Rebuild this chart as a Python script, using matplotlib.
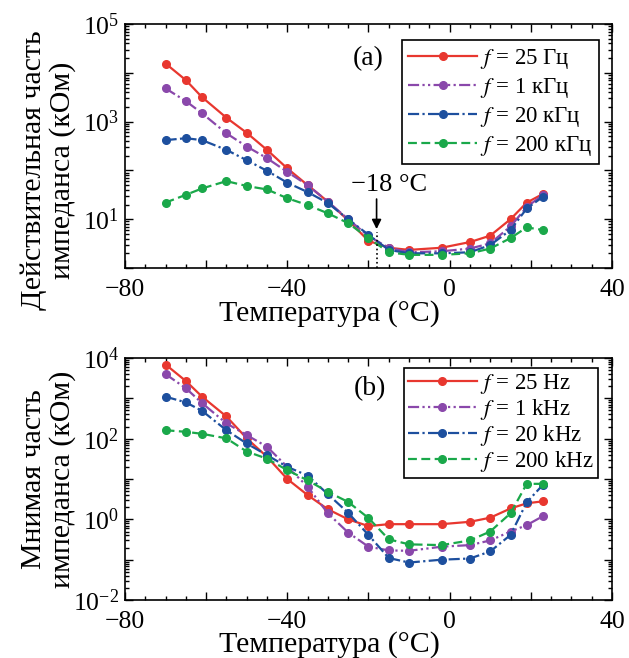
import math
import matplotlib
matplotlib.use("Agg")
import matplotlib.pyplot as plt
from matplotlib.ticker import MultipleLocator, FuncFormatter, LogLocator, NullFormatter

plt.rcParams['font.family'] = ['Liberation Serif', 'DejaVu Serif']
plt.rcParams['mathtext.fontset'] = 'stix'

# ---- data ----
temperature = [-70, -65, -61, -55, -50, -45, -40, -35, -30, -25, -20, -15, -10, -2, 5, 10, 15, 19, 23]

# (a) real part, kOhm
real_25hz = [15500, 7080, 3160, 1200, 589, 263, 110, 50, 22.9, 9.5, 3.6, 2.6, 2.35, 2.6, 3.4, 4.6, 10.0, 21.9, 33]
real_1khz = [4790, 2630, 1480, 575, 309, 178, 93, 50, 22.9, 10.0, 4.5, 2.6, 2.1, 2.2, 2.5, 3.2, 7.1, 17.8, 31.6]
real_20khz = [417, 457, 417, 263, 162, 98, 56, 36, 21.4, 10.0, 4.8, 2.35, 2.0, 2.0, 2.1, 2.95, 6.0, 16.6, 28.8]
real_200khz = [21.9, 31.6, 42.7, 60.3, 47.9, 40.7, 26.9, 19.5, 13.2, 8.3, 4.1, 2.1, 1.86, 1.86, 2.0, 2.5, 4.1, 6.8, 6.0]

# (b) imaginary part, kOhm
imag_25hz = [6900, 2690, 1100, 355, 102, 35.5, 10.0, 4.0, 1.78, 1.0, 0.68, 0.76, 0.76, 0.76, 0.87, 1.10, 1.86, 2.5, 2.8]
imag_1khz = [3980, 1780, 760, 240, 123, 63, 20, 6.5, 1.41, 0.47, 0.21, 0.17, 0.166, 0.21, 0.23, 0.30, 0.50, 0.72, 1.2]
imag_20khz = [1100, 794, 490, 162, 76, 39, 20, 12.2, 4.2, 1.45, 0.41, 0.11, 0.085, 0.10, 0.107, 0.16, 0.41, 2.65, 7.2]
imag_200khz = [162, 148, 132, 102, 48, 32, 16.6, 9.3, 4.8, 2.7, 1.08, 0.32, 0.24, 0.23, 0.30, 0.50, 1.41, 7.6, 7.6]

labels_a = ["$f$ = 25 Гц", "$f$ = 1 кГц", "$f$ = 20 кГц", "$f$ = 200 кГц"]
labels_b = ["$f$ = 25 Hz", "$f$ = 1 kHz", "$f$ = 20 kHz", "$f$ = 200 kHz"]

colors = ['#e8372f', '#8a48ab', '#1d4f9e', '#1aa84a']
styles = ['-', (0, (5, 1.5, 1, 1.5, 1, 1.5)), (0, (5, 1.5, 1, 1.5)), (0, (4, 2))]

fig = plt.figure(figsize=(6.29, 6.58), dpi=100)
ax1 = fig.add_axes([0.1987, 0.5927, 0.7742, 0.3708])
ax2 = fig.add_axes([0.1987, 0.0881, 0.7742, 0.3678])

TICK_FS = 18.5
LABEL_FS = 21.5


def xfmt(v, p):
    if abs(v) % 40 != 0:
        return ""
    return ("\u2212%d" % abs(v)) if v < 0 else "%d" % v


def make_yfmt(odd):
    def yfmt(v, p):
        e = int(round(math.log10(v)))
        if (e % 2 == 1) == odd:
            return r"$\mathdefault{10^{%d}}$" % e
        return ""
    return yfmt


def style_axis(ax, ylim, odd):
    ax.set_yscale('log')
    ax.set_xlim(-80, 40)
    ax.set_ylim(*ylim)
    ax.xaxis.set_major_locator(MultipleLocator(20))
    ax.xaxis.set_minor_locator(MultipleLocator(5))
    ax.xaxis.set_major_formatter(FuncFormatter(xfmt))
    ax.yaxis.set_major_locator(LogLocator(base=10, numticks=20))
    ax.yaxis.set_minor_locator(LogLocator(base=10, subs=[2, 3, 4, 5, 6, 7, 8, 9], numticks=20))
    ax.yaxis.set_major_formatter(FuncFormatter(make_yfmt(odd)))
    ax.yaxis.set_minor_formatter(NullFormatter())
    ax.tick_params(which='both', direction='in', top=True, right=True, labelsize=TICK_FS, width=1.0)
    ax.tick_params(which='major', length=6)
    ax.tick_params(which='minor', length=3)
    ax.tick_params(axis='x', pad=8)
    ax.tick_params(axis='y', pad=4)
    for s in ax.spines.values():
        s.set_linewidth(1.2)


def plot_series(ax, series, labels, anchor, spacing, bpad):
    for y, lab, c, ls in zip(series, labels, colors, styles):
        ax.plot(temperature, y, linestyle=ls, color=c, marker='o', markersize=5.5,
                linewidth=1.6, label=lab)
    leg = ax.legend(loc='upper right', bbox_to_anchor=anchor, fontsize=16.5,
                    handlelength=3.0, handletextpad=0.15, labelspacing=spacing,
                    borderpad=bpad, borderaxespad=0.0, fancybox=False, framealpha=1)
    leg.get_frame().set_edgecolor('black')
    leg.get_frame().set_linewidth(1.2)


style_axis(ax1, (1, 1e5), odd=True)
style_axis(ax2, (1e-2, 1e4), odd=False)

plot_series(ax1, [real_25hz, real_1khz, real_20khz, real_200khz], labels_a, (0.973, 0.934), 0.22, 0.28)
plot_series(ax2, [imag_25hz, imag_1khz, imag_20khz, imag_200khz], labels_b, (0.971, 0.959), 0.04, 0.18)

ax1.text(-20, 10**4.3, "(a)", fontsize=20, ha='center', va='center')
ax2.text(-19.7, 10**3.23, "(b)", fontsize=20, ha='center', va='center')

# -18 °C marker
ax1.annotate("", xy=(-18, 10**0.74), xytext=(-18, 10**1.47),
             arrowprops=dict(arrowstyle='-|>', color='black', lw=1.2, mutation_scale=14))
ax1.text(-15, 10**1.48, "\u221218 \u00b0C", fontsize=19, ha='center', va='bottom')
ax1.plot([-18, -18], [1, 10**0.74], linestyle=':', color='black', linewidth=1.2)

ax1.set_ylabel("Действительная часть\nимпеданса (кОм)", fontsize=LABEL_FS, linespacing=1.1)
ax2.set_ylabel("Мнимая часть\nимпеданса (кОм)", fontsize=LABEL_FS, linespacing=1.1)
ax1.yaxis.set_label_coords(-0.1, 0.40)
ax2.yaxis.set_label_coords(-0.1, 0.50)

for ax in (ax1, ax2):
    ax.set_xlabel("Температура (\u00b0C)", fontsize=LABEL_FS)
    ax.xaxis.set_label_coords(0.42, -0.13)

fig.savefig("out.png", dpi=100)
